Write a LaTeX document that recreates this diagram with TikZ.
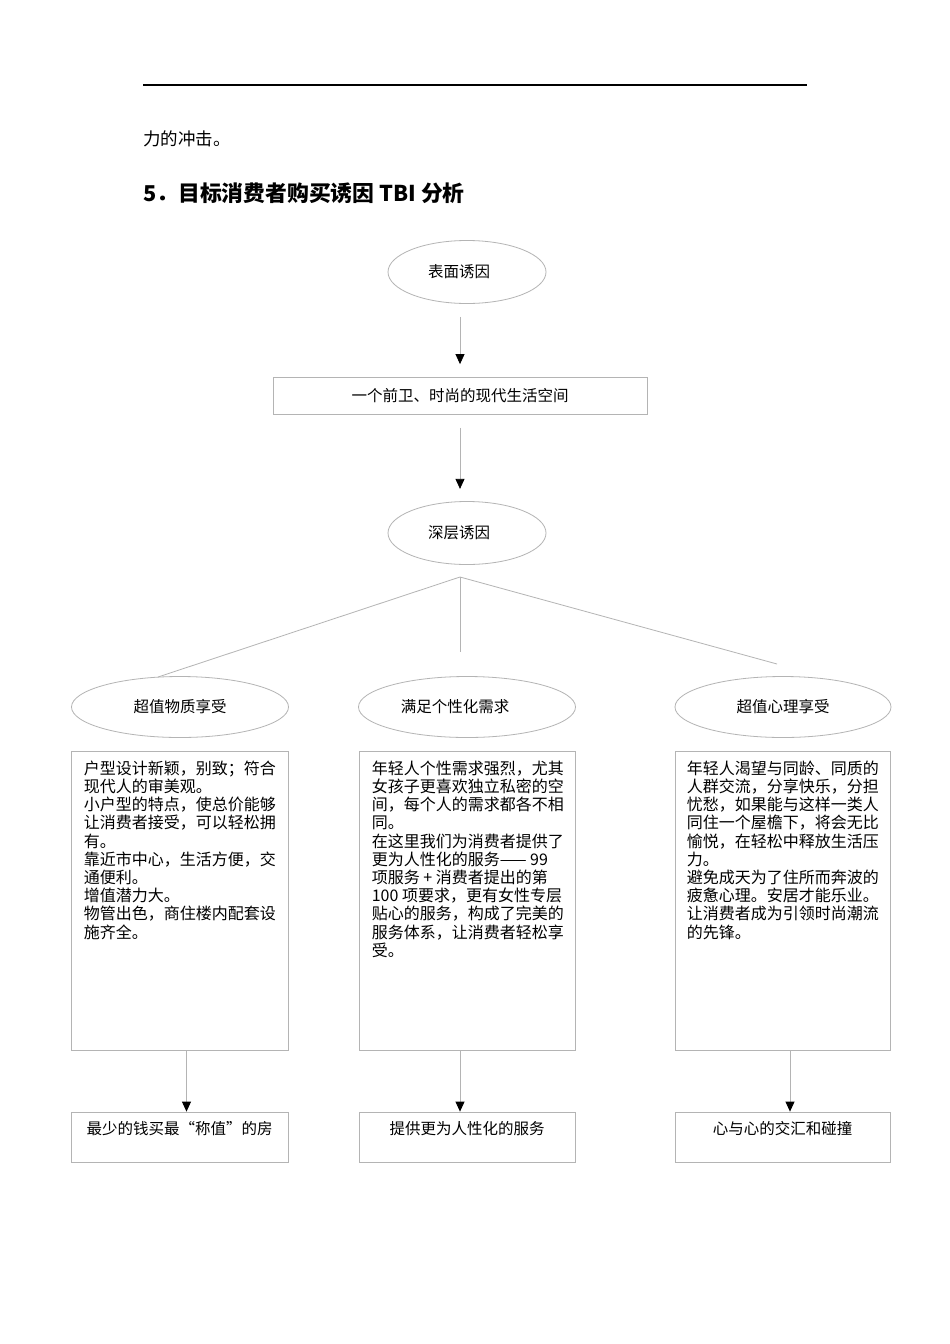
\documentclass[tikz,border=0pt]{standalone}
\usepackage{fontspec}
\setmainfont{Noto Sans CJK SC}
\usetikzlibrary{shapes.geometric,arrows.meta,calc}
\definecolor{linegray}{RGB}{180,180,180}
\begin{document}
\begin{tikzpicture}[x=1pt,y=-1pt,
  ell/.style={ellipse,draw=linegray,line width=0.8pt,inner sep=0pt,font=\fontsize{15.5}{18}\selectfont},
  boxnode/.style={rectangle,draw=linegray,line width=0.8pt,inner sep=0pt},
  conn/.style={draw=linegray,line width=0.8pt},
  arr/.style={conn,-{Triangle[width=9pt,length=10pt,black]}},
  body/.style={anchor=north west,inner sep=0pt,align=left,font=\fontsize{16}{18.2}\selectfont},
  label/.style={inner sep=0pt,font=\fontsize{15.5}{18}\selectfont},
]
\useasboundingbox[fill=white] (0,0) rectangle (950,1344);

% header rule and text
\coordinate (r1) at (143,85);
\coordinate (r2) at (807,85);
\draw[line width=2.2pt] (r1) -- (r2);
\node[anchor=west,inner sep=0pt,font=\fontsize{17.5}{20}\selectfont] (p1) at (143,139) {力的冲击。};
\node[anchor=west,inner sep=0pt,font=\fontsize{21.8}{24}\selectfont\bfseries] (h1) at (143,193) {5．目标消费者购买诱因 TBI 分析};

% top chain
\node[ell,minimum width=158,minimum height=63] (e1) at (467,272) {\kern-16pt 表面诱因};
\node[boxnode,minimum width=374,minimum height=37,label] (b1) at (460,396) {一个前卫、时尚的现代生活空间};
\node[ell,minimum width=158,minimum height=63] (e2) at (467,533) {\kern-16pt 深层诱因};

\draw[arr] ($(e1.south -| b1.north)+(0,13)$) -- ($(b1.north)+(0,-13)$);
\draw[arr] ($(b1.south)+(0,13)$) -- ($(e2.south -| b1.north)+(0,-76)$);

% branches
\coordinate (apex) at (460,577);
\coordinate (l1) at (158,677);
\coordinate (l2) at (460,652);
\coordinate (l3) at (777,664);
\draw[conn] (l1) -- (apex) -- (l3);
\draw[conn] (apex) -- (l2);

% middle ellipses
\node[ell,minimum width=217,minimum height=61] (m1) at (180,707) {超值物质享受};
\node[ell,minimum width=217,minimum height=61] (m2) at (467,707) {\kern-24pt 满足个性化需求};
\node[ell,minimum width=216,minimum height=61] (m3) at (783,707) {超值心理享受};

% big boxes
\node[boxnode,minimum width=217,minimum height=299] (B1) at (179.5,900.5) {};
\node[boxnode,minimum width=216,minimum height=299] (B2) at (467,900.5) {};
\node[boxnode,minimum width=215,minimum height=299] (B3) at (782.5,900.5) {};

\node[body] (t1) at ($(B1.north west)+(13,10)$) {户型设计新颖，别致；符合\\现代人的审美观。\\小户型的特点，使总价能够\\让消费者接受，可以轻松拥\\有。\\靠近市中心，生活方便，交\\通便利。\\增值潜力大。\\物管出色，商住楼内配套设\\施齐全。};
\node[body] (t2) at ($(B2.north west)+(13,10)$) {年轻人个性需求强烈，尤其\\女孩子更喜欢独立私密的空\\间，每个人的需求都各不相\\同。\\在这里我们为消费者提供了\\更为人性化的服务—— 99\\项服务 + 消费者提出的第\\100 项要求，更有女性专层\\贴心的服务，构成了完美的\\服务体系，让消费者轻松享\\受。};
\node[body] (t3) at ($(B3.north west)+(12,10)$) {年轻人渴望与同龄、同质的\\人群交流，分享快乐，分担\\忧愁，如果能与这样一类人\\同住一个屋檐下，将会无比\\愉悦，在轻松中释放生活压\\力。\\避免成天为了住所而奔波的\\疲惫心理。安居才能乐业。\\让消费者成为引领时尚潮流\\的先锋。};

% bottom boxes
\node[boxnode,minimum width=217,minimum height=50] (C1) at (179.5,1137) {};
\node[boxnode,minimum width=216,minimum height=50] (C2) at (467,1137) {};
\node[boxnode,minimum width=215,minimum height=50] (C3) at (782.5,1137) {};
\node[label] (c1t) at ($(C1.north)+(0,17)$) {最少的钱买最“称值”的房};
\node[label] (c2t) at ($(C2.north)+(0,17)$) {提供更为人性化的服务};
\node[label] (c3t) at ($(C3.north)+(0,17)$) {心与心的交汇和碰撞};

\draw[arr] ($(B1.south)+(7,0)$) -- ($(C1.north)+(7,0)$);
\draw[arr] ($(B2.south)+(-7,0)$) -- ($(C2.north)+(-7,0)$);
\draw[arr] ($(B3.south)+(7.5,0)$) -- ($(C3.north)+(7.5,0)$);
\end{tikzpicture}
\end{document}
